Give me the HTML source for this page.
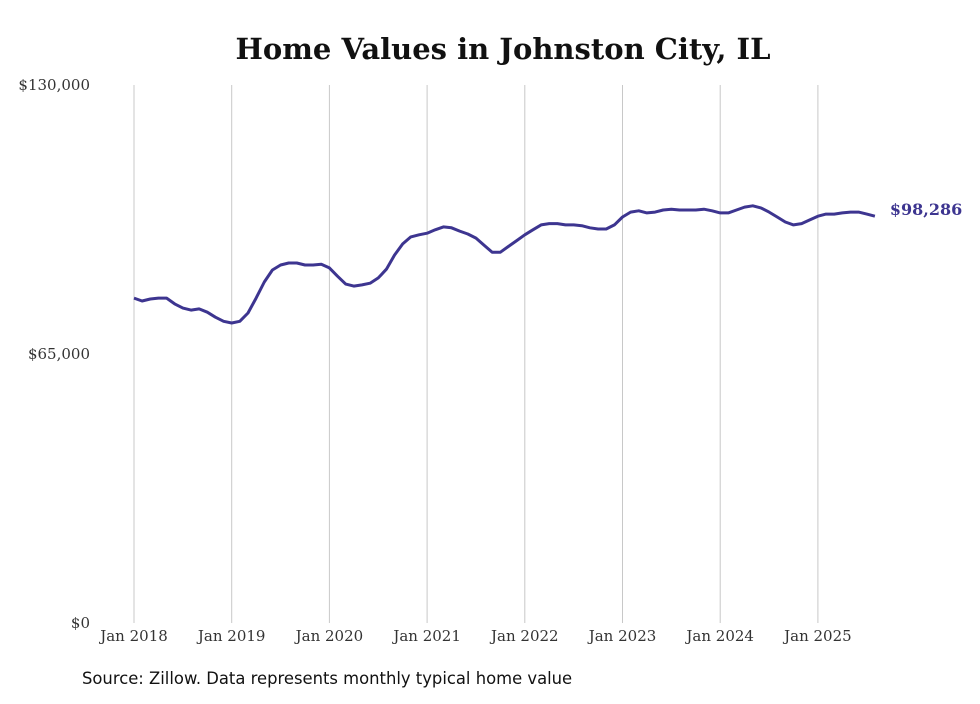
<!DOCTYPE html>
<html><head><meta charset="utf-8"><style>
body{margin:0;background:#fff;}
svg text{font-family:"DejaVu Serif","Liberation Serif",serif;}
</style></head><body>
<svg width="980" height="699" xmlns="http://www.w3.org/2000/svg">
<text x="503" y="59" text-anchor="middle" font-size="29" font-weight="bold" fill="#111">Home Values in Johnston City, IL</text>
<g id="grid"></g>
<g id="yaxis"></g>
<g id="xaxis"></g>
<path id="line" fill="none" stroke="#3d3590" stroke-width="3" stroke-linejoin="round"/>
<text id="endlabel" font-size="16" font-weight="bold" fill="#3d3590">$98,286</text>
<text x="82" y="684" font-size="16.4" fill="#111" style="font-family:'DejaVu Sans','Liberation Sans',sans-serif">Source: Zillow. Data represents monthly typical home value</text>
</svg>
<script>
const yTicks=[0,65000,130000];
const yTickLabels=["$0","$65,000","$130,000"];
const xTickLabels=["Jan 2018","Jan 2019","Jan 2020","Jan 2021","Jan 2022","Jan 2023","Jan 2024","Jan 2025"];
const values=[
78500,77800,78300,78500,78500,77100,76100,75600,75900,75100,73900,72900,
72500,72900,74900,78500,82400,85300,86500,87000,87000,86500,86500,86700,
85800,83800,81900,81400,81700,82100,83400,85500,88900,91600,93300,93800,
94200,95000,95700,95500,94700,94000,93000,91300,89600,89600,91000,92400,
93800,95000,96200,96500,96500,96200,96200,96000,95500,95200,95200,96200,
98100,99300,99600,99100,99300,99800,100000,99800,99800,99800,100000,99600,
99100,99100,99800,100500,100800,100300,99300,98100,96900,96200,96500,97400,
98300,98800,98800,99100,99300,99300,98800,98286];
const ns="http://www.w3.org/2000/svg";
const x0=134,pxMonth=97.7/12;
const X=i=>x0+i*pxMonth;
const Y=v=>623-v/130000*538;
function mk(tag,attrs,parent,text){const e=document.createElementNS(ns,tag);for(const k in attrs)e.setAttribute(k,attrs[k]);if(text!==undefined)e.textContent=text;document.getElementById(parent).appendChild(e);return e;}
xTickLabels.forEach((t,k)=>{
  const x=X(k*12);
  const g=mk('line',{x1:x,x2:x,y1:85,y2:623,stroke:'#c8c8c8','stroke-width':1},'grid');
  
  
  const l=mk('text',{x:x,y:641,'text-anchor':'middle','font-size':15,fill:'#333'},'xaxis',t);
  
  
});
yTicks.forEach((v,k)=>{
  const l=mk('text',{x:90,y:Y(v)+5,'text-anchor':'end','font-size':15,fill:'#333'},'yaxis',yTickLabels[k]);
  
  
});
document.getElementById('line').setAttribute('d',values.map((v,i)=>(i?'L':'M')+X(i).toFixed(1)+','+Y(v).toFixed(1)).join(''));
const lab=document.getElementById('endlabel');
lab.setAttribute('x',X(values.length-1)+15);
lab.setAttribute('y',Y(values[values.length-1])-1);
</script>
</body></html>
